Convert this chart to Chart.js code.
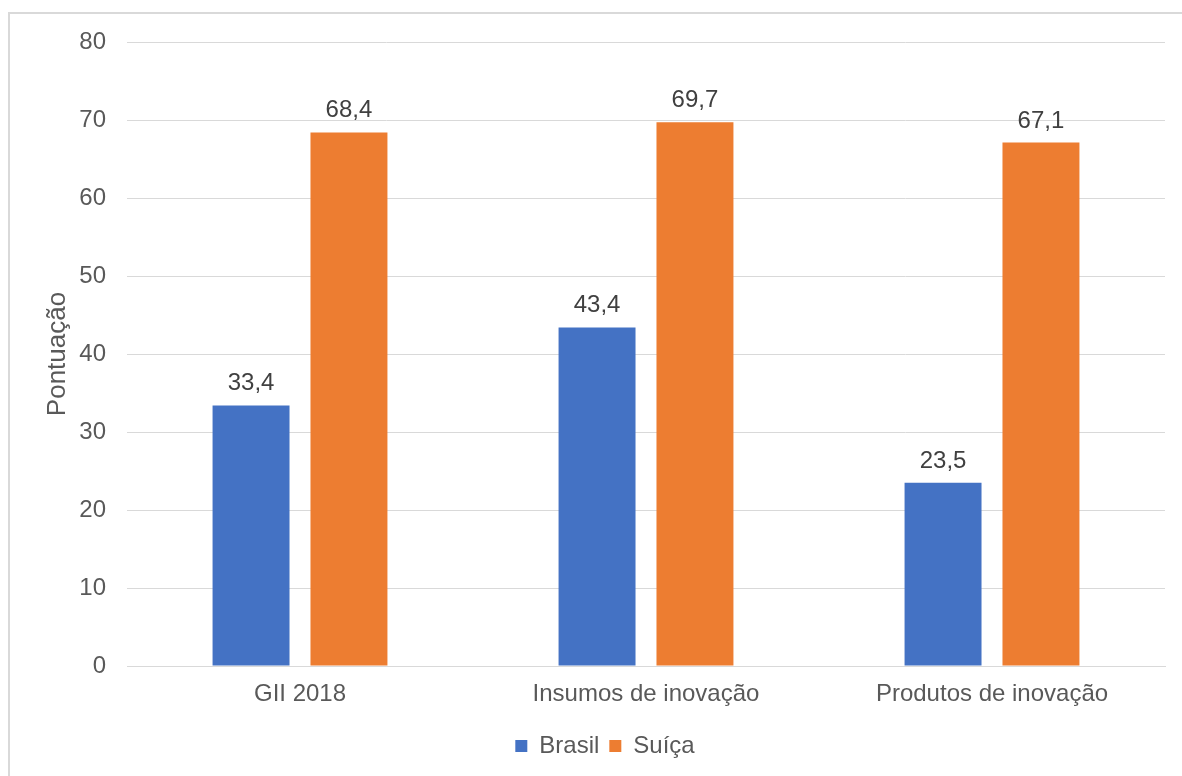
<!DOCTYPE html>
<html lang="pt-BR">
<head>
<meta charset="utf-8">
<title>Pontuação GII 2018 - Brasil e Suíça</title>
<script src="https://cdn.jsdelivr.net/npm/chart.js@4/dist/chart.umd.min.js"></script>
<style>
    html, body { margin: 0; padding: 0; background: #fff; overflow: hidden; }
    #frame {
        position: absolute; left: 8px; top: 12px; right: -10px; bottom: -10px;
        border: 2px solid #d9d9d9;
    }
    #chart { position: absolute; left: 0; top: 0; }
</style>
</head>
<body>
<div id="frame"></div>
<canvas id="chart" width="1182" height="776"></canvas>
<script>
// Series
const categories = ['GII 2018', 'Insumos de inovação', 'Produtos de inovação'];
const brasil = [33.4, 43.4, 23.5];
const suica = [68.4, 69.7, 67.1];
const yMin = 0;
const yMax = 80;
const yStep = 10;

const FONT = '"Liberation Sans", Arial, sans-serif';
Chart.defaults.font.family = FONT;
Chart.defaults.font.size = 24;
Chart.defaults.color = '#595959';

const fmt = v => v.toFixed(1).replace('.', ',');

// Value labels above each bar
const barLabels = {
    id: 'barLabels',
    afterDatasetsDraw(chart) {
        const ctx = chart.ctx;
        ctx.save();
        ctx.font = '24px ' + FONT;
        ctx.fillStyle = '#404040';
        ctx.textAlign = 'center';
        ctx.textBaseline = 'alphabetic';
        chart.data.datasets.forEach((ds, i) => {
            chart.getDatasetMeta(i).data.forEach((bar, j) => {
                ctx.fillText(fmt(ds.data[j]), bar.x, bar.y - 15);
            });
        });
        ctx.restore();
    }
};

new Chart(document.getElementById('chart'), {
    type: 'bar',
    data: {
        labels: categories,
        datasets: [
            { label: 'Brasil', data: brasil, backgroundColor: '#4472C4' },
            { label: 'Suíça', data: suica, backgroundColor: '#ED7D31' }
        ]
    },
    options: {
        responsive: false,
        animation: false,
        categoryPercentage: 0.566,
        barPercentage: 0.786,
        layout: { padding: { left: 45, right: 17, top: 42, bottom: 8 } },
        plugins: {
            legend: {
                position: 'bottom',
                labels: { boxWidth: 12, boxHeight: 12, padding: 10, color: '#595959', font: { size: 24 } }
            },
            tooltip: { enabled: false }
        },
        scales: {
            x: {
                grid: { display: false, drawTicks: false },
                border: { color: '#d9d9d9' },
                ticks: { padding: 14, color: '#595959', font: { size: 24 } },
                afterFit(scale) { scale.height = 58; }
            },
            y: {
                min: yMin,
                max: yMax,
                grid: { color: '#d9d9d9', drawTicks: false },
                border: { display: false },
                ticks: { stepSize: yStep, padding: 21, color: '#595959', font: { size: 24 } },
                title: {
                    display: true,
                    text: 'Pontuação',
                    color: '#595959',
                    padding: 0,
                    font: { size: 26, lineHeight: 1 }
                },
                afterFit(scale) { scale.width = 82; }
            }
        }
    },
    plugins: [barLabels]
});
</script>
</body>
</html>
